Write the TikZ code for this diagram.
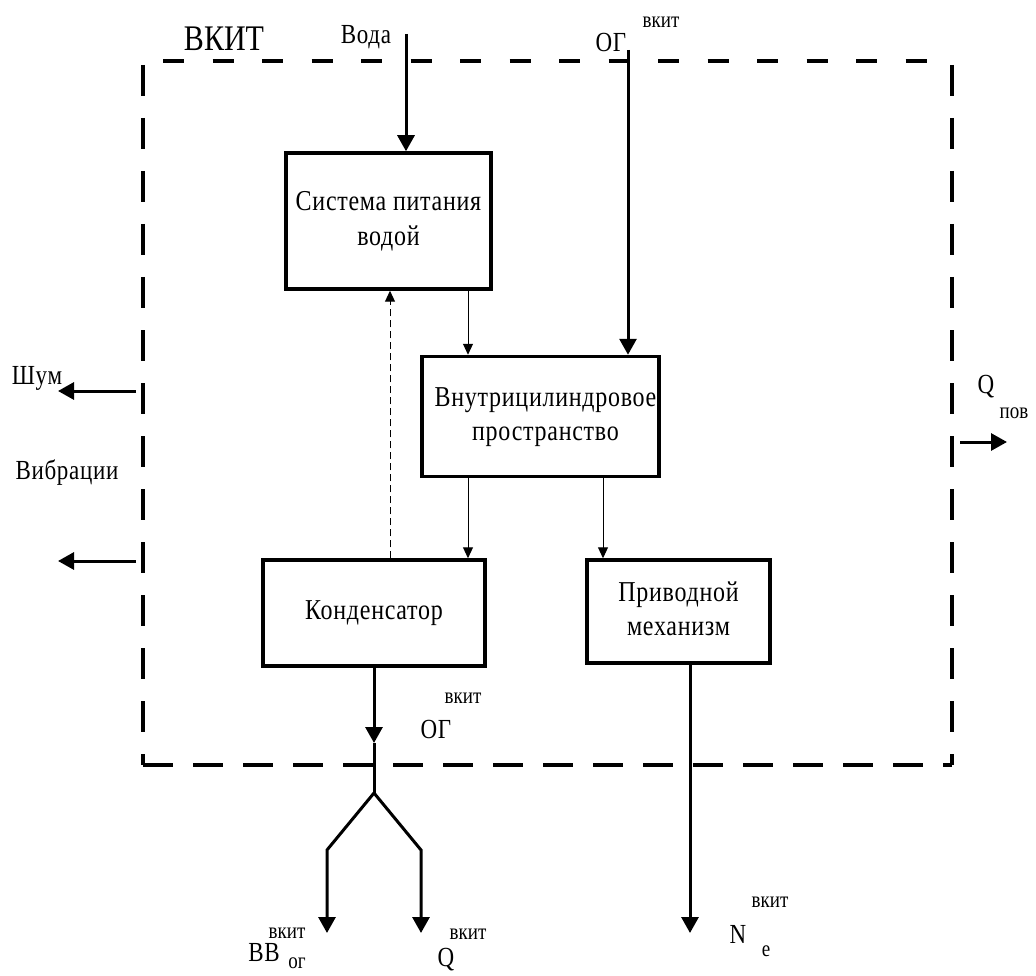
\documentclass[tikz,border=0pt]{standalone}
\usepackage{graphicx}
\usepackage{fontspec}
\setmainfont{Liberation Serif}
\usetikzlibrary{arrows.meta}
\newcommand\vs[1]{\scalebox{1}[1.2]{#1}}
\newcommand\vst[1]{\scalebox{1}[1.2]{\begin{tabular}{@{}c@{}}#1\end{tabular}}}
\begin{document}
\begin{tikzpicture}[x=1pt,y=-1pt,
  box/.style={draw, line width=3.5pt, inner sep=0pt, align=center,
    font=\fontsize{24}{29}\selectfont\addfontfeature{LetterSpace=3}},
  lbl/.style={inner sep=0pt, font=\fontsize{23}{26}\selectfont\addfontfeature{LetterSpace=3}},
  sml/.style={inner sep=0pt, font=\fontsize{19}{20}\selectfont},
  big/.style={inner sep=0pt, font=\fontsize{30}{34}\selectfont},
  thickarr/.style={line width=3pt, -{Triangle[length=16pt,width=17pt]}},
  thickline/.style={line width=3pt},
  thinarr/.style={line width=1pt, -{Triangle[length=11pt,width=10pt]}},
  fbkarr/.style={line width=1pt, dash pattern=on 7pt off 4pt, -{Triangle[length=11pt,width=10pt]}},
  hdashtop/.style={line width=3.5pt, dash pattern=on 21pt off 28.5pt, dash phase=29.5pt},
  hdashbot/.style={line width=3.5pt, dash pattern=on 30pt off 20pt},
  vdash/.style={line width=3.5pt, dash pattern=on 31pt off 22pt, dash phase=-4pt}
]
\useasboundingbox (0,0) rectangle (1036,976);

% frame corners
\coordinate (fTL) at (143,61);
\coordinate (fTR) at (952,61);
\coordinate (fBL) at (143,765);
\coordinate (fBR) at (952,765);
\draw[hdashtop] (fTL) -- (fTR);
\draw[hdashbot] (fBL) -- (fBR);
\draw[vdash] (fTL) -- (fBL);
\draw[vdash] (fTR) -- (fBR);

% boxes
\node[box, minimum width=205pt, minimum height=136pt] (b1) at (388.5,221) {\raisebox{-7pt}{\vst{Система питания\\водой}}};
\node[box, minimum width=237pt, minimum height=120pt] (b2) at (540.5,416.5) {\hspace*{10pt}\vst{Внутрицилиндровое\\пространство}};
\node[box, minimum width=222pt, minimum height=106pt] (b3) at (374,613) {\raisebox{-2pt}{\vs{Конденсатор}}};
\node[box, minimum width=183pt, minimum height=103pt] (b4) at (678.5,611.5) {\vst{Приводной\\механизм}};

% labels
\node[big] (lvkit) at (224,39) {\vs{ВКИТ}};
\node[lbl] (lvoda) at (366,37) {\vs{Вода}};
\node[lbl] (log) at (611,43) {\vs{ОГ}};
\node[sml] (logs) at (661,22) {\vs{вкит}};
\node[sml] (log2s) at (463,698) {\vs{вкит}};
\node[lbl] (log2) at (436,729) {\vs{ОГ}};
\node[lbl] (lshum) at (37,378) {\vs{Шум}};
\node[lbl] (lvib) at (67,473) {\vs{Вибрации}};
\node[lbl] (lq) at (986,387) {\vs{Q}};
\node[sml] (lqs) at (1014,413) {\vs{пов}};
\node[sml] (lvvs) at (287,933) {\vs{вкит}};
\node[lbl] (lvv) at (264,952) {\vs{ВВ}};
\node[sml] (lvvi) at (297,963) {\vs{ог}};
\node[sml] (lq2s) at (468,934) {\vs{вкит}};
\node[lbl] (lq2) at (446,960) {\vs{Q}};
\node[sml] (lns) at (770,902) {\vs{вкит}};
\node[lbl] (ln) at (738,934) {\vs{N}};
\node[sml] (lni) at (766,951) {\vs{e}};

% connector coordinates
\coordinate (voda) at (406,34);
\coordinate (ogin) at (628,50);
\coordinate (x468) at (468,0);
\coordinate (x603) at (603,0);
\coordinate (x390) at (390,0);
\coordinate (ogout) at (374,743);
\coordinate (split) at (374,793);
\coordinate (bl) at (327,850);
\coordinate (br) at (421,850);
\coordinate (vvtip) at (327,933);
\coordinate (qtip) at (421,933);
\coordinate (netip) at (690,933);
\coordinate (shumS) at (136,391);
\coordinate (shumT) at (58,391);
\coordinate (vibS) at (136,561);
\coordinate (vibT) at (58,561);
\coordinate (qS) at (960,442);
\coordinate (qT) at (1007,442);

% connectors
\draw[thickarr] (voda) -- (voda |- b1.north);
\draw[thickarr] (ogin) -- (ogin |- b2.north);
\draw[thinarr] (x468 |- b1.south) -- (x468 |- b2.north);
\draw[thinarr] (x468 |- b2.south) -- (x468 |- b3.north);
\draw[thinarr] (x603 |- b2.south) -- (x603 |- b4.north);
\draw[fbkarr] (x390 |- b3.north) -- (x390 |- b1.south);
\draw[thickarr] (b3.south) -- (ogout);
\draw[thickline] (ogout) -- (split);
\draw[thickarr] (split) -- (bl) -- (vvtip);
\draw[thickarr] (split) -- (br) -- (qtip);
\draw[thickarr] (netip |- b4.south) -- (netip);
\draw[thickarr] (shumS) -- (shumT);
\draw[thickarr] (vibS) -- (vibT);
\draw[thickarr] (qS) -- (qT);
\end{tikzpicture}
\end{document}
